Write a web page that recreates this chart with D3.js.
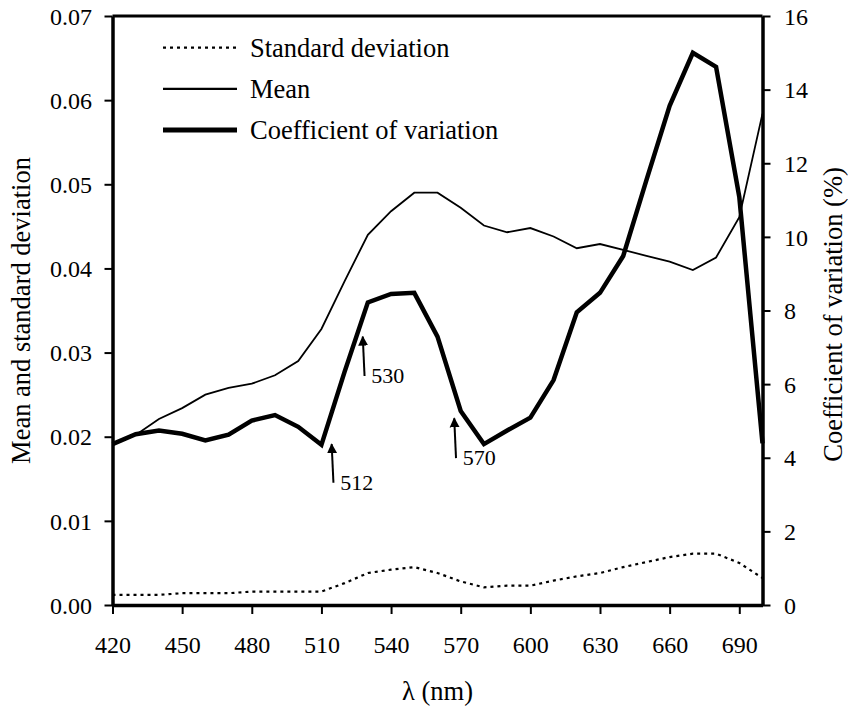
<!DOCTYPE html>
<html>
<head>
<meta charset="utf-8">
<script src="https://cdn.jsdelivr.net/npm/d3@7"></script>
<style>
  html, body { margin: 0; padding: 0; background: #fff; }
  svg { display: block; }
  text { font-family: "Liberation Serif", "Times New Roman", serif; fill: #000; }
</style>
</head>
<body>
<svg id="chart" width="848" height="711"></svg>
<script>
// Wavelengths (nm)
const wavelengths = [420, 430, 440, 450, 460, 470, 480, 490, 500, 510, 520, 530, 540, 550, 560,
                     570, 580, 590, 600, 610, 620, 630, 640, 650, 660, 670, 680, 690, 700];
// Mean reflectance
const meanValues = [0.0191, 0.0202, 0.0221, 0.0234, 0.0250, 0.0258, 0.0263, 0.0273, 0.0290, 0.0328,
                    0.0385, 0.0440, 0.0468, 0.0490, 0.0490, 0.0472, 0.0451, 0.0443, 0.0448, 0.0438,
                    0.0424, 0.0429, 0.0422, 0.0415, 0.0408, 0.0398, 0.0413, 0.0461, 0.0584];
// Standard deviation
const sdValues = [0.0012, 0.0012, 0.0012, 0.0014, 0.0014, 0.0014, 0.0016, 0.0016, 0.0016, 0.0016,
                  0.0026, 0.0038, 0.0042, 0.0045, 0.0038, 0.0028, 0.0021, 0.0023, 0.0023, 0.0029,
                  0.0034, 0.0038, 0.0045, 0.0051, 0.0057, 0.0061, 0.0061, 0.0050, 0.0032];
// Coefficient of variation (%)
const cvValues = [4.37, 4.64, 4.74, 4.65, 4.47, 4.63, 5.01, 5.16, 4.84, 4.35,
                  6.34, 8.22, 8.45, 8.48, 7.29, 5.27, 4.37, 4.74, 5.09, 6.11,
                  7.95, 8.48, 9.48, 11.54, 13.56, 15.00, 14.62, 11.09, 4.39];

// Axis ticks
const xTicks = [420, 450, 480, 510, 540, 570, 600, 630, 660, 690];
const leftTicks = [0, 0.01, 0.02, 0.03, 0.04, 0.05, 0.06, 0.07];
const rightTicks = [0, 2, 4, 6, 8, 10, 12, 14, 16];

// Arrow annotations on the CV curve: label, wavelength, tip and tail (CV units)
const annotations = [
  { label: "512", wl: 514.4, tip: 4.37, tail: 3.32 },
  { label: "530", wl: 527.8, tip: 7.29, tail: 6.22 },
  { label: "570", wl: 567.2, tip: 5.07, tail: 3.99 }
];

const legendItems = [
  { label: "Standard deviation", key: "sd" },
  { label: "Mean", key: "mean" },
  { label: "Coefficient of variation", key: "cv" }
];

const W = 848, H = 711;
const margin = { top: 16, right: 85.5, bottom: 106, left: 112.5 };
const iw = W - margin.left - margin.right;
const ih = H - margin.top - margin.bottom;

const svg = d3.select("#chart");
const g = svg.append("g").attr("transform", `translate(${margin.left},${margin.top})`);

const x = d3.scaleLinear().domain([420, 700]).range([0, iw]);
const yL = d3.scaleLinear().domain([0, 0.07]).range([ih, 0]);
const yR = d3.scaleLinear().domain([0, 16]).range([ih, 0]);

const styles = {
  sd:   { width: 2.2, dash: "3,4" },
  mean: { width: 1.8, dash: null },
  cv:   { width: 4.5, dash: null }
};

// Series lines
const seriesDefs = [
  { key: "sd", values: sdValues, scale: yL },
  { key: "mean", values: meanValues, scale: yL },
  { key: "cv", values: cvValues, scale: yR }
];
seriesDefs.forEach(s => {
  const line = d3.line()
    .x((d, i) => x(wavelengths[i]))
    .y(d => s.scale(d));
  g.append("path")
    .datum(s.values)
    .attr("d", line)
    .attr("fill", "none")
    .attr("stroke", "#000")
    .attr("stroke-width", styles[s.key].width)
    .attr("stroke-dasharray", styles[s.key].dash)
    .attr("stroke-linejoin", "miter");
});

// Axes
const fontSize = 24;
const titleSize = 26.5;
const axisWidth = 3.5;
const serif = '"Liberation Serif", "Times New Roman", serif';

const xAxis = g.append("g").attr("transform", `translate(0,${ih})`)
  .call(d3.axisBottom(x).tickValues(xTicks).tickSize(9).tickSizeOuter(0).tickFormat(d3.format("d")));
xAxis.selectAll("text").attr("y", 48).attr("dy", 0).style("font-size", fontSize + "px");

const leftAxis = g.append("g")
  .call(d3.axisLeft(yL).tickValues(leftTicks).tickSize(8).tickSizeOuter(0).tickFormat(d3.format(".2f")));
leftAxis.selectAll("text").attr("x", -20.5).attr("dy", "0.34em").style("font-size", fontSize + "px");

const rightAxis = g.append("g").attr("transform", `translate(${iw},0)`)
  .call(d3.axisRight(yR).tickValues(rightTicks).tickSize(8).tickSizeOuter(0).tickFormat(d3.format("d")));
rightAxis.selectAll("text").attr("x", 21.5).attr("dy", "0.34em").style("font-size", fontSize + "px");

[xAxis, leftAxis, rightAxis].forEach(a => {
  a.attr("font-family", serif);
  a.select(".domain").attr("stroke-width", axisWidth).attr("stroke", "#000");
  a.selectAll(".tick line").attr("stroke-width", 2).attr("stroke", "#000");
  a.selectAll("text").attr("fill", "#000").style("font-family", serif);
});
// Top border
g.append("line")
  .attr("x1", 0).attr("x2", iw).attr("y1", 0).attr("y2", 0)
  .attr("stroke", "#000").attr("stroke-width", 3.2);

// Axis titles
svg.append("text")
  .attr("transform", `translate(${margin.left + iw / 2},700)`)
  .attr("text-anchor", "middle")
  .style("font-size", titleSize + "px")
  .text("\u03BB (nm)");

svg.append("text")
  .attr("transform", `translate(30,${margin.top + ih / 2}) rotate(-90)`)
  .attr("text-anchor", "middle")
  .style("font-size", titleSize + "px")
  .text("Mean and standard deviation");

svg.append("text")
  .attr("transform", `translate(842,${margin.top + ih / 2 + 4}) rotate(-90)`)
  .attr("text-anchor", "middle")
  .style("font-size", titleSize + "px")
  .text("Coefficient of variation (%)");

// Legend
const legend = svg.append("g").attr("transform", "translate(163,47.7)");
legendItems.forEach((item, i) => {
  const row = legend.append("g").attr("transform", `translate(0,${i * 41.2})`);
  row.append("line")
    .attr("x1", 0).attr("x2", 74).attr("y1", 0).attr("y2", 0)
    .attr("stroke", "#000")
    .attr("stroke-width", item.key === "cv" ? 5 : 2.2)
    .attr("stroke-dasharray", styles[item.key].dash);
  row.append("text")
    .attr("x", 87).attr("y", 9)
    .style("font-size", titleSize + "px")
    .text(item.label);
});

// Arrow annotations
const defs = svg.append("defs");
defs.append("marker")
  .attr("id", "arrowhead")
  .attr("viewBox", "0 0 10 10")
  .attr("refX", 9).attr("refY", 5)
  .attr("markerWidth", 10).attr("markerHeight", 12)
  .attr("markerUnits", "userSpaceOnUse")
  .attr("orient", "auto")
  .append("path")
  .attr("d", "M0,0 L10,5 L0,10 Z")
  .attr("fill", "#000");

annotations.forEach(a => {
  const xt = x(a.wl);
  g.append("line")
    .attr("x1", xt + 1.8).attr("y1", yR(a.tail))
    .attr("x2", xt).attr("y2", yR(a.tip))
    .attr("stroke", "#000").attr("stroke-width", 2)
    .attr("marker-end", "url(#arrowhead)");
  g.append("text")
    .attr("x", xt + 8.5).attr("y", yR(a.tail) + 7)
    .style("font-size", "22px")
    .text(a.label);
});
</script>
</body>
</html>
